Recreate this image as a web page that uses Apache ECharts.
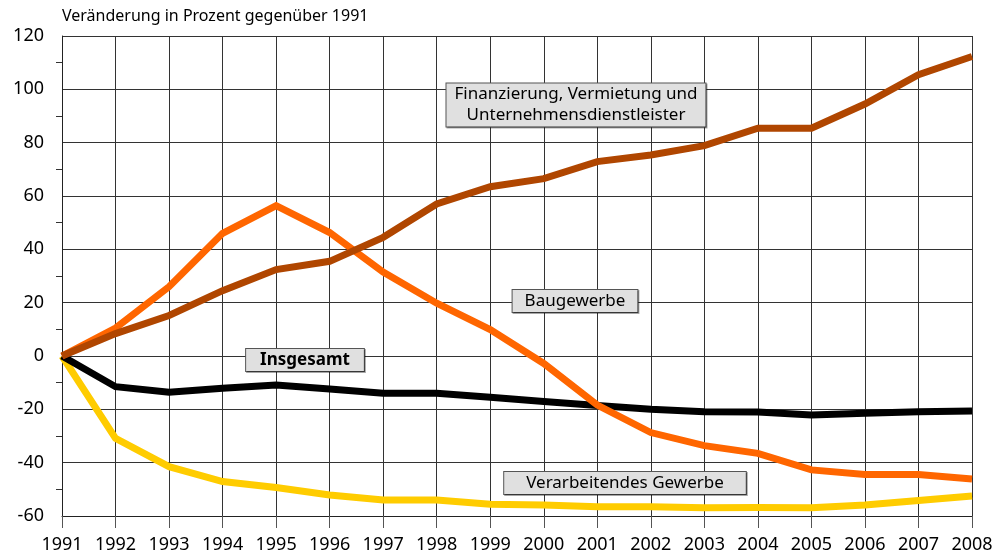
<!DOCTYPE html>
<html>
<head>
<meta charset="utf-8">
<script src="https://cdn.jsdelivr.net/npm/echarts@6/dist/echarts.min.js"></script>
<style>
html, body { margin: 0; padding: 0; background: #fff; }
#chart { width: 997px; height: 555px; }
</style>
</head>
<body>
<div id="chart"></div>
<script>
var years = ['1991', '1992', '1993', '1994', '1995', '1996', '1997', '1998', '1999',
	'2000', '2001', '2002', '2003', '2004', '2005', '2006', '2007', '2008'];

// Veränderung in Prozent gegenüber 1991
var verarbeitendes = [0, -30.9, -41.5, -47.1, -49.3, -52.1, -54, -54, -55.6,
	-55.9, -56.5, -56.5, -56.9, -56.8, -56.9, -55.9, -54.2, -52.5];
var insgesamt = [0, -11.5, -13.6, -12.1, -10.9, -12.4, -14, -14, -15.5,
	-17.1, -18.6, -20, -20.9, -21, -22.1, -21.5, -20.9, -20.6];
var baugewerbe = [0, 10.5, 26, 46, 56.4, 46.3, 31.5, 19.8, 9.9,
	-2.8, -18.4, -28.7, -33.6, -36.5, -42.7, -44.4, -44.4, -46.1];
var finanzierung = [0, 8.4, 15.2, 24.5, 32.4, 35.5, 44.5, 57, 63.5,
	66.5, 72.9, 75.4, 78.9, 85.4, 85.4, 94.5, 105.5, 112.3];

var fontFamily = '"Noto Sans", sans-serif';

var myChart = echarts.init(document.getElementById('chart'));

function line(name, data, color) {
	return {
		name: name,
		type: 'line',
		data: data,
		symbol: 'none',
		lineStyle: { width: 7, color: color, join: 'miter' },
		animation: false
	};
}

function box(text, x, y, bold, padH) {
	return {
		type: 'text',
		x: x,
		y: y,
		z: 100,
		style: {
			text: text,
			font: (bold ? 'bold ' : '') + '17px ' + fontFamily,
			fill: '#000',
			align: 'center',
			verticalAlign: 'middle',
			lineHeight: 21,
			backgroundColor: '#e0e0e0',
			borderColor: '#555',
			borderWidth: 1,
			padding: [1, padH, 0, padH],
			shadowColor: 'rgba(0,0,0,0.35)',
			shadowOffsetX: 1,
			shadowOffsetY: 1
		}
	};
}

var option = {
	backgroundColor: '#fff',
	textStyle: { fontFamily: fontFamily },
	grid: { left: 62, right: 25, top: 36, bottom: 39 },
	xAxis: {
		type: 'category',
		data: years,
		boundaryGap: false,
		axisLine: { show: true, onZero: false, lineStyle: { color: '#222', width: 1 } },
		axisTick: { show: true, interval: 0, length: 12, lineStyle: { color: '#555' } },
		axisLabel: { color: '#000', fontSize: 18, margin: 20, interval: 0, hideOverlap: false, fontFamily: fontFamily },
		splitLine: { show: true, interval: 0, lineStyle: { color: '#333', width: 1 } }
	},
	yAxis: {
		type: 'value',
		min: -60,
		max: 120,
		interval: 20,
		axisLine: { show: true, lineStyle: { color: '#222', width: 1 } },
		axisTick: { show: false },
		minorTick: { show: true, splitNumber: 2, length: 6, lineStyle: { color: '#333' } },
		axisLabel: { color: '#000', fontSize: 18, margin: 18, fontFamily: fontFamily },
		splitLine: { show: true, lineStyle: { color: '#333', width: 1 } }
	},
	series: [
		line('Verarbeitendes Gewerbe', verarbeitendes, '#ffcc00'),
		line('Insgesamt', insgesamt, '#000000'),
		line('Baugewerbe', baugewerbe, '#ff6600'),
		line('Finanzierung, Vermietung und Unternehmensdienstleister', finanzierung, '#b04600')
	],
	graphic: [
		{
			type: 'text',
			left: 62,
			top: 8,
			style: {
				text: 'Veränderung in Prozent gegenüber 1991',
				font: '16px ' + fontFamily,
				fill: '#000'
			}
		},
		box('Finanzierung, Vermietung und\nUnternehmensdienstleister', 576, 105, false, 8),
		box('Baugewerbe', 575, 301, false, 12),
		box('Insgesamt', 305, 360, true, 14),
		box('Verarbeitendes Gewerbe', 625, 483, false, 22)
	]
};

myChart.setOption(option);
</script>
</body>
</html>
